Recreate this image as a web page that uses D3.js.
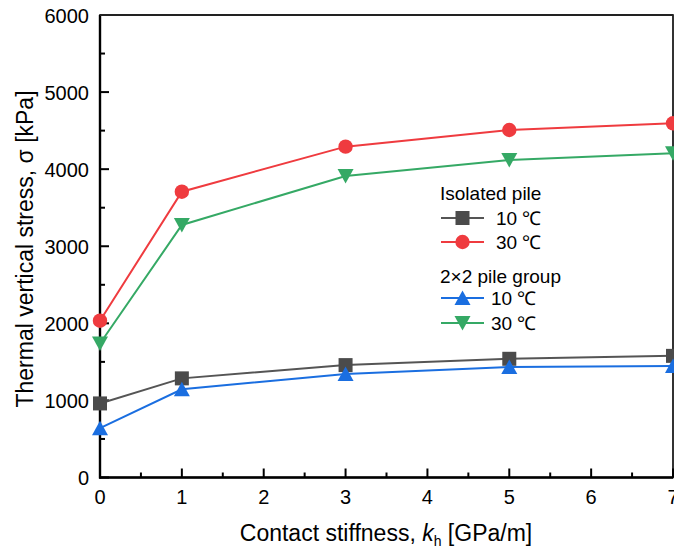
<!DOCTYPE html>
<html><head><meta charset="utf-8">
<script src="https://cdn.jsdelivr.net/npm/d3@7"></script>
<style>body{margin:0;background:#fff}svg{display:block;font-family:Arial,"Liberation Sans",sans-serif}</style>
</head><body><svg id="c" width="674" height="552"></svg>
<script>
const xValues = [0, 1, 3, 5, 7];
const isolated10 = [961, 1286, 1458, 1540, 1578];
const isolated30 = [2034, 3708, 4292, 4508, 4595];
const group10 = [640, 1145, 1343, 1432, 1447];
const group30 = [1738, 3276, 3911, 4119, 4206];
const xTicks = [0, 1, 2, 3, 4, 5, 6, 7];
const yTicks = [0, 1000, 2000, 3000, 4000, 5000, 6000];

const series = [
  {name: "10 ℃", values: isolated10, color: "#4b4b4b", line: "#555555", shape: "square"},
  {name: "30 ℃", values: isolated30, color: "#ef3b3f", line: "#ef3b3f", shape: "circle"},
  {name: "30 ℃", values: group30, color: "#35a965", line: "#35a965", shape: "down"},
  {name: "10 ℃", values: group10, color: "#1a6ee0", line: "#1a6ee0", shape: "up"}
];

const svg = d3.select("#c");
const L = 100, R = 673, T = 15, B = 477.5;
const x = d3.scaleLinear().domain([0, 7]).range([L, R]);
const y = d3.scaleLinear().domain([0, 6000]).range([B, T]);

function marker(g, shape, cx, cy, color) {
  if (shape === "square") {
    g.append("rect").attr("x", cx - 7).attr("y", cy - 7).attr("width", 14).attr("height", 14).attr("fill", color);
  } else if (shape === "circle") {
    g.append("circle").attr("cx", cx).attr("cy", cy).attr("r", 7.2).attr("fill", color);
  } else if (shape === "up") {
    g.append("path").attr("d", `M${cx},${cy - 7.5}L${cx + 8},${cy + 7}L${cx - 8},${cy + 7}Z`).attr("fill", color);
  } else {
    g.append("path").attr("d", `M${cx},${cy + 7.5}L${cx + 8},${cy - 7}L${cx - 8},${cy - 7}Z`).attr("fill", color);
  }
}

// axes
const xMinor = d3.range(0.5, 7, 1);
const yMinor = d3.range(500, 6000, 1000);
const ax = svg.append("g").attr("stroke", "#000");
xTicks.forEach(t => ax.append("line").attr("x1", x(t)).attr("x2", x(t)).attr("y1", B).attr("y2", B - 9).attr("stroke-width", 2));
xMinor.forEach(t => ax.append("line").attr("x1", x(t)).attr("x2", x(t)).attr("y1", B).attr("y2", B - 5).attr("stroke-width", 2));
yTicks.forEach(t => ax.append("line").attr("x1", L).attr("x2", L + 9).attr("y1", y(t)).attr("y2", y(t)).attr("stroke-width", 2));
yMinor.forEach(t => ax.append("line").attr("x1", L).attr("x2", L + 5).attr("y1", y(t)).attr("y2", y(t)).attr("stroke-width", 2));
svg.append("rect").attr("x", L).attr("y", T).attr("width", R - L).attr("height", B - T)
  .attr("fill", "none").attr("stroke", "#000").attr("stroke-width", 1.6);
svg.append("line").attr("x1", L).attr("x2", L).attr("y1", T).attr("y2", B + 1).attr("stroke", "#000").attr("stroke-width", 2.4);
svg.append("line").attr("x1", L - 1).attr("x2", R).attr("y1", B).attr("y2", B).attr("stroke", "#000").attr("stroke-width", 2.4);
svg.append("line").attr("x1", L).attr("x2", R).attr("y1", T).attr("y2", T).attr("stroke", "#222").attr("stroke-width", 2.2);

svg.append("g").selectAll("text").data(xTicks).join("text")
  .attr("x", d => x(d)).attr("y", 504).attr("text-anchor", "middle").attr("font-size", 20).text(d => d);
svg.append("g").selectAll("text").data(yTicks).join("text")
  .attr("x", 89).attr("y", d => y(d) + 7.5).attr("text-anchor", "end").attr("font-size", 20).text(d => d);

// titles
const xt = svg.append("text").attr("x", 386).attr("y", 541).attr("text-anchor", "middle").attr("font-size", 23);
xt.append("tspan").text("Contact stiffness, ");
xt.append("tspan").attr("font-style", "italic").text("k");
xt.append("tspan").attr("font-size", 14).attr("dy", 5).text("h");
xt.append("tspan").attr("dy", -5).text(" [GPa/m]");
svg.append("text").attr("transform", "translate(33,249) rotate(-90)").attr("text-anchor", "middle")
  .attr("font-size", 23).text("Thermal vertical stress, σ [kPa]");

// series
const line = d3.line().x((d, i) => x(xValues[i])).y(d => y(d));
series.forEach(s => {
  svg.append("path").attr("d", line(s.values)).attr("fill", "none").attr("stroke", s.line).attr("stroke-width", 2);
});
series.forEach(s => {
  const g = svg.append("g");
  s.values.forEach((v, i) => marker(g, s.shape, x(xValues[i]), y(v), s.color));
});

// legend
const lg = svg.append("g").attr("font-size", 19);
lg.append("text").attr("x", 440).attr("y", 200).text("Isolated pile");
lg.append("text").attr("x", 440).attr("y", 283).text("2×2 pile group");
const rows = [
  {s: series[0], yy: 218, tx: 496},
  {s: series[1], yy: 242, tx: 496},
  {s: series[3], yy: 298, tx: 491},
  {s: series[2], yy: 323, tx: 491}
];
rows.forEach(r => {
  lg.append("line").attr("x1", 441).attr("x2", 484).attr("y1", r.yy).attr("y2", r.yy).attr("stroke", r.s.line).attr("stroke-width", 2);
  marker(lg, r.s.shape, 462.5, r.yy, r.s.color);
  lg.append("text").attr("x", r.tx).attr("y", r.yy + 7).text(r.s.name);
});
</script></body></html>
